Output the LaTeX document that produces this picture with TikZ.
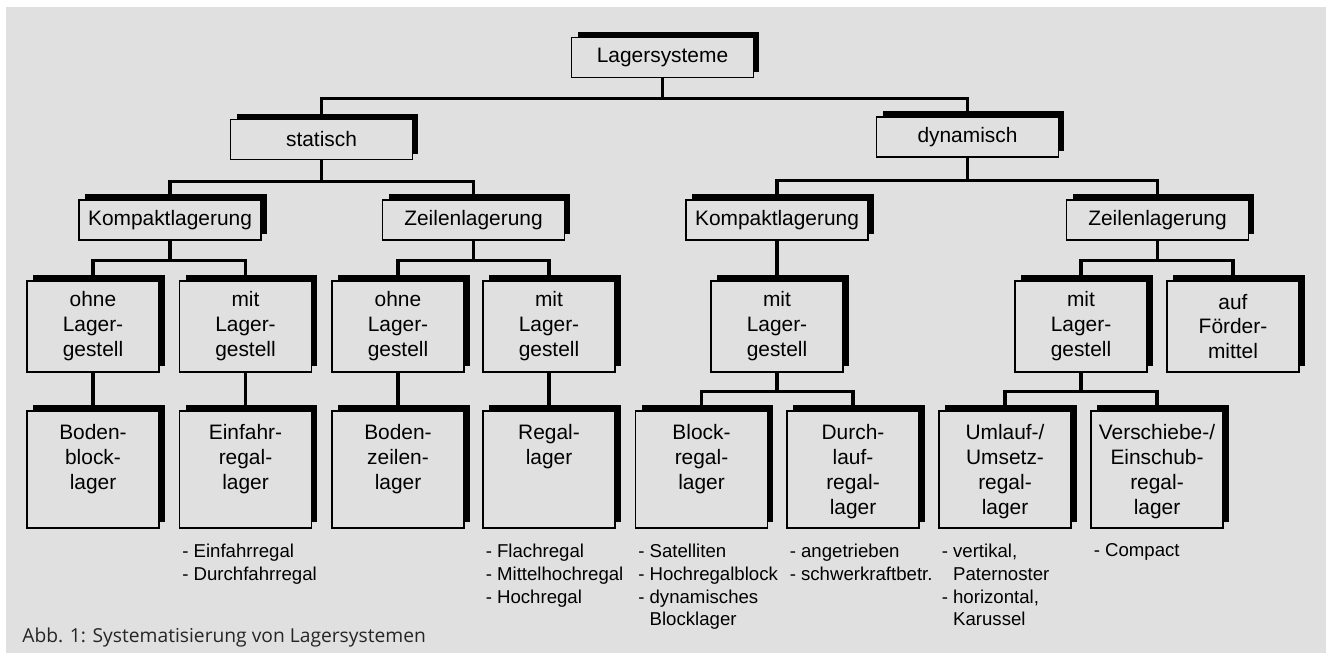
\documentclass[tikz,border=0pt]{standalone}
\usepackage{fontspec}
\setmainfont{Liberation Sans}
\newfontfamily\capfont{Open Sans}
\usepackage{tikz}
\usetikzlibrary{shadows,positioning}
\definecolor{bggray}{RGB}{224,224,224}
\tikzset{
  conn/.style={line width=1.8pt},
  shbox/.style={draw, line width=0.7pt, fill=bggray, inner sep=0pt,
    drop shadow={shadow xshift=0.12cm, shadow yshift=0.12cm, fill=black, opacity=1}},
  topbox/.style={shbox, minimum width=3.64cm, minimum height=0.8cm, font=\fontsize{11.9}{14.2}\selectfont},
  midbox/.style={shbox, minimum width=2.64cm, minimum height=1.82cm, align=center, font=\fontsize{11.9}{14.2}\selectfont},
  lowbox/.style={shbox, minimum width=2.64cm, minimum height=2.34cm},
  lowtext/.style={inner sep=0pt, align=center, font=\fontsize{11.9}{14.2}\selectfont},
  listtext/.style={inner sep=0pt, align=left, font=\fontsize{10.6}{13}\selectfont},
}

\begin{document}
\begin{tikzpicture}[x=0.02cm,y=-0.02cm]
        \useasboundingbox (0,0) rectangle (1326,653);
        \fill[bggray] (6,7) rectangle (1326,653);
        \node[topbox] (sys) at (662.5,57.5) {Lagersysteme};
        \node[topbox] (stat) at (321.5,139.5) {statisch};
        \node[topbox] (dyn) at (967.5,137) {dynamisch};
        \node[topbox] (skomp) at (170,220) {Kompaktlagerung};
        \node[topbox] (szeil) at (473.5,220) {Zeilenlagerung};
        \node[topbox] (dkomp) at (777,220) {Kompaktlagerung};
        \node[topbox] (dzeil) at (1157.5,220) {Zeilenlagerung};
        \node[midbox] (sko) at (93,326.5) {ohne\\Lager-\\gestell};
        \node[midbox] (skm) at (245.5,326.5) {mit\\Lager-\\gestell};
        \node[midbox] (szo) at (398,326.5) {ohne\\Lager-\\gestell};
        \node[midbox] (szm) at (549,326.5) {mit\\Lager-\\gestell};
        \node[midbox] (dkm) at (777,326.5) {mit\\Lager-\\gestell};
        \node[midbox] (dzm) at (1081,326.5) {mit\\Lager-\\gestell};
        \node[midbox] (dzf) at (1233,326.5) {auf\\Förder-\\mittel};
        \node[lowbox] (bbl) at (93,469.5) {};
        \node[lowbox] (efr) at (245.5,469.5) {};
        \node[lowbox] (bzl) at (398,469.5) {};
        \node[lowbox] (rgl) at (549,469.5) {};
        \node[lowbox] (brl) at (701.5,469.5) {};
        \node[lowbox] (drl) at (853,469.5) {};
        \node[lowbox] (url) at (1005,469.5) {};
        \node[lowbox] (vrl) at (1157,469.5) {};
        \node[lowtext, below=0.27cm of bbl.north] (bbl-t) {Boden-\\block-\\lager};
        \node[lowtext, below=0.27cm of efr.north] (efr-t) {Einfahr-\\regal-\\lager};
        \node[lowtext, below=0.27cm of bzl.north] (bzl-t) {Boden-\\zeilen-\\lager};
        \node[lowtext, below=0.27cm of rgl.north] (rgl-t) {Regal-\\lager};
        \node[lowtext, below=0.27cm of brl.north] (brl-t) {Block-\\regal-\\lager};
        \node[lowtext, below=0.27cm of drl.north] (drl-t) {Durch-\\lauf-\\regal-\\lager};
        \node[lowtext, below=0.27cm of url.north] (url-t) {Umlauf-/\\Umsetz-\\regal-\\lager};
        \node[lowtext, below=0.27cm of vrl.north] (vrl-t) {Verschiebe-/\\Einschub-\\regal-\\lager};
        \node[listtext, below right=0.3cm and 0.06cm of efr.south west] (efr-l) {- Einfahrregal\\- Durchfahrregal};
        \node[listtext, below right=0.3cm and 0.06cm of rgl.south west] (rgl-l) {- Flachregal\\- Mittelhochregal\\- Hochregal};
        \node[listtext, below right=0.3cm and 0.06cm of brl.south west] (brl-l) {- Satelliten\\- Hochregalblock\\- dynamisches\\\phantom{- }Blocklager};
        \node[listtext, below right=0.3cm and 0.06cm of drl.south west] (drl-l) {- angetrieben\\- schwerkraftbetr.};
        \node[listtext, below right=0.3cm and 0.06cm of url.south west] (url-l) {- vertikal,\\\phantom{- }Paternoster\\- horizontal,\\\phantom{- }Karussel};
        \node[listtext, below right=0.3cm and 0.06cm of vrl.south west] (vrl-l) {- Compact};
        \draw[conn] (sys.south) -- ++(0,20) coordinate (b1);
        \draw[conn] (stat.north) |- (b1) -| (dyn.north);
        \draw[conn] (stat.south) -- ++(0,21) coordinate (b2);
        \draw[conn] (skomp.north) |- (b2) -| (szeil.north);
        \draw[conn] (dyn.south) -- ++(0,23) coordinate (b3);
        \draw[conn] (dkomp.north) |- (b3) -| (dzeil.north);
        \draw[conn] (skomp.south) -- ++(0,20) coordinate (b4);
        \draw[conn] (sko.north) |- (b4) -| (skm.north);
        \draw[conn] (szeil.south) -- ++(0,20) coordinate (b5);
        \draw[conn] (szo.north) |- (b5) -| (szm.north);
        \draw[conn] (dkomp) -- (dkm);
        \draw[conn] (dzeil.south) -- ++(0,20) coordinate (b6);
        \draw[conn] (dzm.north) |- (b6) -| (dzf.north);
        \draw[conn] (sko) -- (bbl);
        \draw[conn] (skm) -- (efr);
        \draw[conn] (szo) -- (bzl);
        \draw[conn] (szm) -- (rgl);
        \draw[conn] (dkm.south) -- ++(0,19) coordinate (b7);
        \draw[conn] (brl.north) |- (b7) -| (drl.north);
        \draw[conn] (dzm.south) -- ++(0,19) coordinate (b8);
        \draw[conn] (url.north) |- (b8) -| (vrl.north);
        \node[anchor=base west, inner sep=0pt, text=black!85, font=\capfont\fontsize{10.95}{12}\selectfont] (cap) at (22,642) {Abb. 1: Systematisierung von Lagersystemen};
\end{tikzpicture}
\end{document}
